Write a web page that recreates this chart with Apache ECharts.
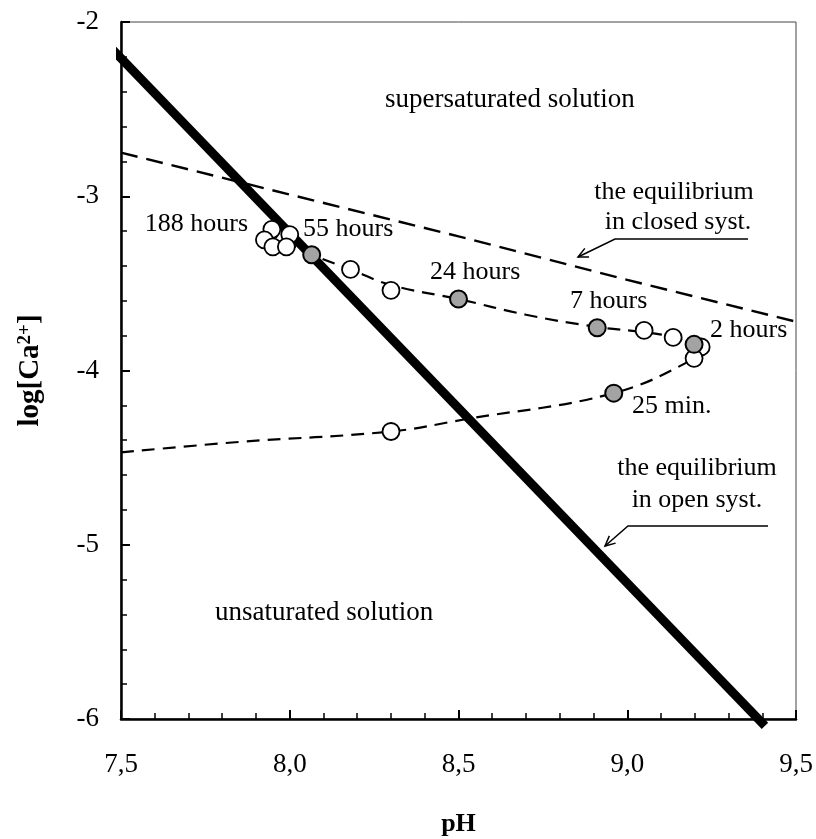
<!DOCTYPE html>
<html style="height: 100%">
    <head>
        <meta charset="utf-8">
    </head>
    <body style="height: 100%; margin: 0; background: #fff">
        <div id="container" style="width: 816px; height: 839px"></div>

        <script type="text/javascript" src="https://cdn.jsdelivr.net/npm/echarts@6/dist/echarts.min.js"></script>
        <script type="text/javascript">

// values (pH, log[Ca2+])
var openSystLine = [[7.476, -2.16], [9.408, -6.04]];
var closedSystLine = [[7.5, -2.75], [8.0, -2.99], [8.5, -3.23], [9.0, -3.48], [9.5, -3.72]];
var upperPath = [[7.93, -3.2], [8.06, -3.33], [8.18, -3.42], [8.3, -3.51], [8.5, -3.59], [8.7, -3.68],
                 [8.91, -3.75], [9.05, -3.78], [9.14, -3.81], [9.21, -3.86]];
var lowerPath = [[7.5, -4.47], [7.85, -4.41], [8.3, -4.35], [8.52, -4.28], [8.96, -4.13], [9.2, -3.93], [9.22, -3.87]];
var openPoints = [[7.947, -3.19], [8.0, -3.22], [7.925, -3.25], [7.95, -3.29], [7.99, -3.29],
                  [8.18, -3.42], [8.30, -3.54], [9.05, -3.77], [9.136, -3.81], [9.219, -3.865],
                  [9.198, -3.93], [8.30, -4.35]];
var grayPoints = [[8.065, -3.336], [8.50, -3.59], [8.911, -3.755], [9.198, -3.85], [8.96, -4.13]];

var xTicks = { min: 7.5, max: 9.5, step: 0.5 };
var yTicks = { min: -6, max: -2, step: 1 };

var serif = 'Liberation Serif';

var dom = document.getElementById("container");
var myChart = echarts.init(dom);

function txt(x, y, s, size, align) {
    return {
        type: 'text', x: x, y: y, z: 50,
        style: { text: s, font: (size || 26) + 'px "' + serif + '"', fill: '#000',
                 align: align || 'left', verticalAlign: 'middle' }
    };
}

function arrow(pts) {
    // leader line + open arrow head at the last point
    var t = pts[pts.length - 1], p = pts[pts.length - 2];
    var dx = p[0] - t[0], dy = p[1] - t[1], l = Math.sqrt(dx * dx + dy * dy);
    dx /= l; dy /= l;
    var a = 0.45, len = 11;
    var h1 = [t[0] + len * (dx * Math.cos(a) - dy * Math.sin(a)), t[1] + len * (dx * Math.sin(a) + dy * Math.cos(a))];
    var h2 = [t[0] + len * (dx * Math.cos(-a) - dy * Math.sin(-a)), t[1] + len * (dx * Math.sin(-a) + dy * Math.cos(-a))];
    return [
        { type: 'polyline', z: 50, shape: { points: pts }, style: { stroke: '#000', lineWidth: 1.5, fill: null } },
        { type: 'polyline', z: 50, shape: { points: [h1, t, h2] }, style: { stroke: '#000', lineWidth: 1.5, fill: null } }
    ];
}

var dashStyle = { color: '#000', width: 2.2, type: [13, 8] };

option = {
    animation: false,
    grid: {
        left: 121, right: 20, top: 22, bottom: 120, outerBoundsMode: 'none',
        show: true, borderColor: '#444', borderWidth: 1
    },
    xAxis: {
        type: 'value', min: xTicks.min, max: xTicks.max, interval: xTicks.step,
        name: 'pH', nameLocation: 'middle', nameGap: 92,
        nameTextStyle: { fontFamily: serif, fontSize: 26, fontWeight: 'bold', color: '#000' },
        axisLine: { lineStyle: { color: '#000', width: 2.5 } },
        axisTick: { inside: true, length: 9, lineStyle: { color: '#000', width: 2 } },
        minorTick: { show: true, splitNumber: 5, length: 6, lineStyle: { color: '#000', width: 1.5 } },
        splitLine: { show: false },
        axisLabel: {
            margin: 32, fontFamily: serif, fontSize: 27, color: '#000',
            formatter: function (v) { return v.toFixed(1).replace('.', ','); }
        }
    },
    yAxis: {
        type: 'value', min: yTicks.min, max: yTicks.max, interval: yTicks.step,
        name: '{b|log[Ca}{s|2+}{b|]}', nameLocation: 'middle', nameGap: 76,
        nameTextStyle: {
            rich: {
                b: { fontFamily: serif, fontSize: 29, fontWeight: 'bold', color: '#000' },
                s: { fontFamily: serif, fontSize: 19, fontWeight: 'bold', color: '#000', verticalAlign: 'top', padding: [0, 0, 9, 0] }
            }
        },
        axisLine: { lineStyle: { color: '#000', width: 2.5 } },
        axisTick: { inside: true, length: 9, lineStyle: { color: '#000', width: 2 } },
        minorTick: { show: true, splitNumber: 5, length: 6, lineStyle: { color: '#000', width: 1.5 } },
        splitLine: { show: false },
        axisLabel: { margin: 22, fontFamily: serif, fontSize: 27, color: '#000' }
    },
    series: [
        { type: 'line', data: closedSystLine, symbol: 'none', lineStyle: { color: '#000', width: 2.4, type: [17, 9] }, z: 2 },
        { type: 'line', data: upperPath, symbol: 'none', smooth: 0.4, lineStyle: dashStyle, z: 2 },
        { type: 'line', data: lowerPath, symbol: 'none', smooth: 0.4, lineStyle: dashStyle, z: 2 },
        { type: 'line', data: openSystLine, symbol: 'none', clip: false, lineStyle: { color: '#000', width: 9 }, z: 3 },
        {
            type: 'scatter', data: openPoints, symbolSize: 17, z: 4,
            itemStyle: { color: '#fff', borderColor: '#000', borderWidth: 1.8, opacity: 1 }
        },
        {
            type: 'scatter', data: grayPoints, symbolSize: 17, z: 5,
            itemStyle: { color: '#a3a3a3', borderColor: '#000', borderWidth: 2, opacity: 1 }
        }
    ],
    graphic: [
        txt(385, 100, 'supersaturated solution', 27),
        txt(215, 613, 'unsaturated solution', 27),
        txt(248, 224, '188 hours', 26, 'right'),
        txt(303, 229, '55 hours'),
        txt(430, 272, '24 hours'),
        txt(570, 301, '7 hours'),
        txt(710, 330, '2 hours'),
        txt(632, 406, '25 min.'),
        txt(674, 192, 'the equilibrium', 26, 'center'),
        txt(678, 222, 'in closed syst.', 26, 'center'),
        txt(697, 468, 'the equilibrium', 26, 'center'),
        txt(697, 500, 'in open syst.', 26, 'center')
    ].concat(arrow([[748, 239], [615, 239], [578, 257]]))
     .concat(arrow([[768, 526], [628, 526], [605, 546]]))
};

if (option && typeof option === 'object') {
    myChart.setOption(option);
}

        </script>
    </body>
</html>
